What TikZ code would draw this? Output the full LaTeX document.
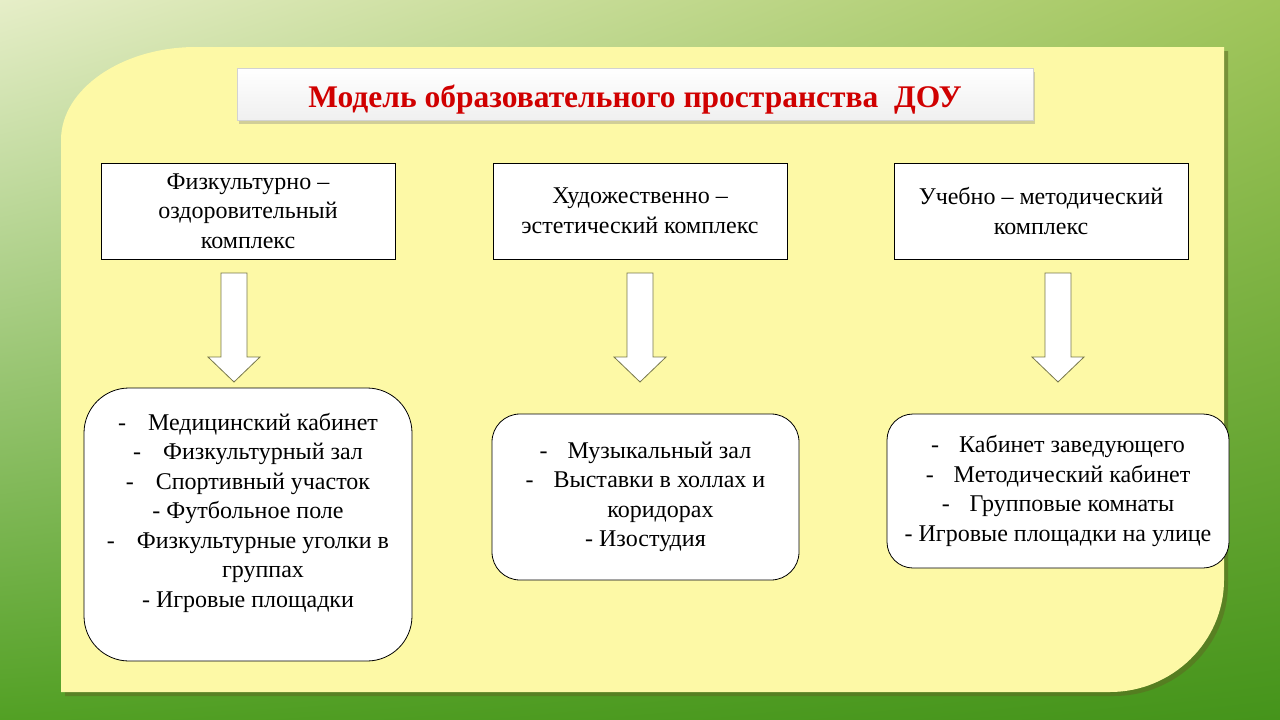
\documentclass[tikz,border=0pt]{standalone}
\usepackage{fontspec}
\setmainfont{Liberation Serif}
\usetikzlibrary{shadows,shadings}
\definecolor{bgTL}{HTML}{E6EEC8}
\definecolor{bgTR}{HTML}{A0C55A}
\definecolor{bgBL}{HTML}{52A024}
\definecolor{bgBR}{HTML}{45941B}
\definecolor{panel}{HTML}{FDF9A6}
\definecolor{panelshade}{HTML}{5E6A22}
\definecolor{titlered}{HTML}{D00000}
\definecolor{arrowline}{HTML}{77774A}
\newcommand\blockarr[2]{\coordinate(#1) at (#2,273); \draw[arr] (#1) ++(-13,0) -- ++(26,0) -- ++(0,84) -- ++(13,0) -- ++(-26,25) -- ++(-26,-25) -- ++(13,0) -- cycle;}

\begin{document}
\begin{tikzpicture}[x=1pt,y=-1pt,
    every node/.style={font=\fontsize{24}{29.5}\selectfont},
    headbox/.style={draw,fill=white,line width=.8pt,minimum width=294pt,minimum height=96pt,align=center,inner sep=0pt},
    listbox/.style={draw,fill=white,line width=.8pt,align=center,inner sep=0pt},
    arr/.style={draw=arrowline,fill=white,line width=.8pt,line join=miter}]
    \useasboundingbox (0,0) rectangle (1280,720);
    \shade[upper left=bgTL,upper right=bgTR,lower left=bgBL,lower right=bgBR] (0,0) rectangle (1280,720);
    \fill[panel,preaction={fill=panelshade,opacity=.55,transform canvas={shift={(4pt,-4pt)}}}]
        (61,692) -- (61,140) .. controls (61,89) and (122,47) .. (196,47) -- (1224,47)
        -- (1224,580) .. controls (1224,642) and (1172,692) .. (1110,692) -- cycle;
    \node(t)[draw=gray!35,shade,top color=white,bottom color=gray!12,minimum width=796pt,minimum height=52pt,
        drop shadow={shadow xshift=2pt,shadow yshift=-4pt,opacity=.35},text height=30pt,text depth=4pt,
        font=\fontsize{31.5}{38}\selectfont\bfseries,text=titlered] at (635,94) {Модель образовательного пространства~ ДОУ};
    \node(k1)[headbox] at (248,211) {Физкультурно –\\оздоровительный\\комплекс};
    \node(k2)[headbox] at (640,211) {Художественно –\\эстетический комплекс};
    \node(k3)[headbox] at (1041,211) {Учебно – методический\\комплекс};
    \blockarr{a1}{234} \blockarr{a2}{640} \blockarr{a3}{1058}
    \node(s1)[listbox,rounded corners=45pt,minimum width=328pt,minimum height=273pt] at (248,524.5)
        {-\hspace{22pt}Медицинский кабинет\\-\hspace{22pt}Физкультурный зал\\-\hspace{22pt}Спортивный участок\\- Футбольное поле\\
         -\hspace{22pt}Физкультурные уголки в\\\hspace*{30pt}группах\\- Игровые площадки\\[-10pt]\strut};
    \node(s2)[listbox,rounded corners=28pt,minimum width=307pt,minimum height=166pt] at (645.5,497)
        {-\hspace{20pt}Музыкальный зал\\-\hspace{20pt}Выставки в холлах и\\\hspace*{30pt}коридорах\\- Изостудия};
    \node(s3)[listbox,rounded corners=26pt,minimum width=342pt,minimum height=154pt] at (1058,491)
        {-\hspace{20pt}Кабинет заведующего\\-\hspace{20pt}Методический кабинет\\-\hspace{20pt}Групповые комнаты\\- Игровые площадки на улице};
\end{tikzpicture}
\end{document}
